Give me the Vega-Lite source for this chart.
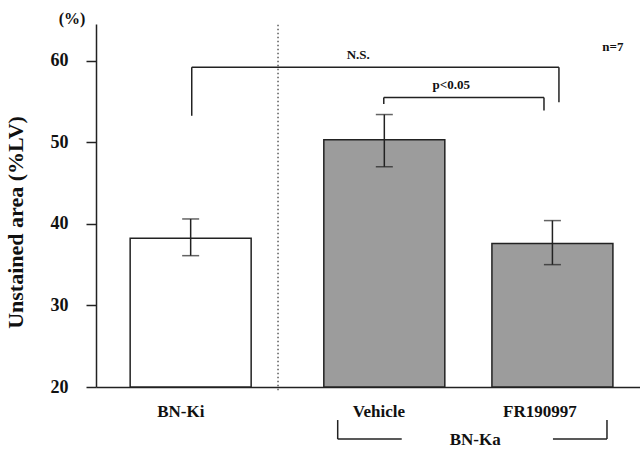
{
  "$schema": "https://vega.github.io/schema/vega-lite/v6.json",
  "width": 544,
  "height": 363,
  "autosize": {"type": "none"},
  "padding": {"left": 96, "top": 24, "right": 0, "bottom": 71},
  "background": "white",
  "config": {
    "view": {"stroke": null},
    "font": "Liberation Serif"
  },
  "resolve": {"axis": {"y": "shared"}},
  "datasets": {
    "bars": [
      {"group": "BN-Ki", "treatment": "BN-Ki", "pos": 17.4, "mean": 38.25, "lo": 36.1, "hi": 40.6},
      {"group": "BN-Ka", "treatment": "Vehicle", "pos": 53.0, "mean": 50.3, "lo": 47.0, "hi": 53.4},
      {"group": "BN-Ka", "treatment": "FR190997", "pos": 83.9, "mean": 37.6, "lo": 35.0, "hi": 40.4}
    ],
    "notes": [
      {"text": "N.S.", "x": 48.2, "y": 60.7},
      {"text": "p<0.05", "x": 65.3, "y": 57.0},
      {"text": "n=7", "x": 95.0, "y": 61.7}
    ],
    "labels": [
      {"text": "BN-Ki", "x": 15.6, "y": 16.97},
      {"text": "Vehicle", "x": 52.0, "y": 16.97},
      {"text": "FR190997", "x": 81.6, "y": 16.97},
      {"text": "BN-Ka", "x": 69.7, "y": 13.5}
    ],
    "unit": [
      {"text": "(%)", "x": -4.4, "y": 65.1}
    ],
    "segments": [
      {"x1": 17.6, "y1": 53.25, "x2": 17.6, "y2": 59.2},
      {"x1": 17.6, "y1": 59.2, "x2": 85.1, "y2": 59.2},
      {"x1": 85.1, "y1": 59.2, "x2": 85.1, "y2": 54.9},
      {"x1": 52.9, "y1": 54.7, "x2": 52.9, "y2": 55.5},
      {"x1": 52.9, "y1": 55.5, "x2": 82.35, "y2": 55.5},
      {"x1": 82.35, "y1": 55.5, "x2": 82.35, "y2": 53.9},
      {"x1": 44.43, "y1": 15.95, "x2": 44.43, "y2": 13.62},
      {"x1": 44.43, "y1": 13.62, "x2": 56.2, "y2": 13.62},
      {"x1": 84.0, "y1": 13.62, "x2": 93.93, "y2": 13.62},
      {"x1": 93.93, "y1": 13.62, "x2": 93.93, "y2": 15.95}
    ],
    "divider": [
      {"x": 33.46, "y1": 19.6, "y2": 64.5}
    ]
  },
  "layer": [
    {
      "data": {"name": "divider"},
      "mark": {"type": "rule", "color": "#333", "strokeWidth": 1.2, "strokeDash": [1.5, 2.5]},
      "encoding": {
        "x": {"field": "x", "type": "quantitative", "scale": {"domain": [0, 100], "padding": 0, "nice": false, "zero": false},
              "axis": {"labels": false, "ticks": false, "grid": false, "title": null, "domainColor": "#222", "domainWidth": 1.5}},
        "y": {"field": "y1", "type": "quantitative", "title": "Unstained area (%LV)", "scale": {"domain": [20, 64.5], "nice": false, "zero": false},
              "axis": {"values": [20, 30, 40, 50, 60], "grid": false, "tickSize": 10, "tickWidth": 1.5, "tickColor": "#222",
                       "domainColor": "#222", "domainWidth": 1.5,
                       "labelFont": "Liberation Serif", "labelFontWeight": "bold", "labelFontSize": 18, "labelColor": "#111", "labelPadding": 18,
                       "title": "Unstained area (%LV)", "titleFont": "Liberation Serif", "titleFontWeight": "bold", "titleFontSize": 22, "titleColor": "#111",
                       "titleAngle": -90, "titleX": -81, "titleY": 198, "titleAlign": "center", "titleBaseline": "middle"}},
        "y2": {"field": "y2"}
      }
    },
    {
      "data": {"name": "bars"},
      "mark": {"type": "bar", "width": 121, "stroke": "#222", "strokeWidth": 1.5},
      "encoding": {
        "x": {"field": "pos", "type": "quantitative"},
        "y": {"field": "mean", "type": "quantitative", "title": "Unstained area (%LV)"},
        "y2": {"datum": 20},
        "fill": {"field": "group", "type": "nominal", "scale": {"domain": ["BN-Ki", "BN-Ka"], "range": ["#ffffff", "#9c9c9c"]}, "legend": null}
      }
    },
    {
      "data": {"name": "bars"},
      "mark": {"type": "errorbar", "color": "#222", "thickness": 1.5, "ticks": {"size": 17, "thickness": 1.5, "color": "#222"}},
      "encoding": {
        "x": {"field": "pos", "type": "quantitative"},
        "y": {"field": "lo", "type": "quantitative", "title": "Unstained area (%LV)"},
        "y2": {"field": "hi"}
      }
    },
    {
      "data": {"name": "segments"},
      "mark": {"type": "rule", "color": "#222", "strokeWidth": 1.5},
      "encoding": {
        "x": {"field": "x1", "type": "quantitative"},
        "x2": {"field": "x2"},
        "y": {"field": "y1", "type": "quantitative", "title": "Unstained area (%LV)"},
        "y2": {"field": "y2"}
      }
    },
    {
      "data": {"name": "notes"},
      "mark": {"type": "text", "font": "Liberation Serif", "fontWeight": "bold", "fontSize": 13, "color": "#111", "align": "center", "baseline": "middle"},
      "encoding": {
        "x": {"field": "x", "type": "quantitative"},
        "y": {"field": "y", "type": "quantitative", "title": "Unstained area (%LV)"},
        "text": {"field": "text"}
      }
    },
    {
      "data": {"name": "labels"},
      "mark": {"type": "text", "font": "Liberation Serif", "fontWeight": "bold", "fontSize": 17, "color": "#111", "align": "center", "baseline": "middle"},
      "encoding": {
        "x": {"field": "x", "type": "quantitative"},
        "y": {"field": "y", "type": "quantitative", "title": "Unstained area (%LV)"},
        "text": {"field": "text"}
      }
    },
    {
      "data": {"name": "unit"},
      "mark": {"type": "text", "font": "Liberation Serif", "fontWeight": "bold", "fontSize": 16, "color": "#111", "align": "center", "baseline": "middle"},
      "encoding": {
        "x": {"field": "x", "type": "quantitative"},
        "y": {"field": "y", "type": "quantitative", "title": "Unstained area (%LV)"},
        "text": {"field": "text"}
      }
    }
  ]
}
